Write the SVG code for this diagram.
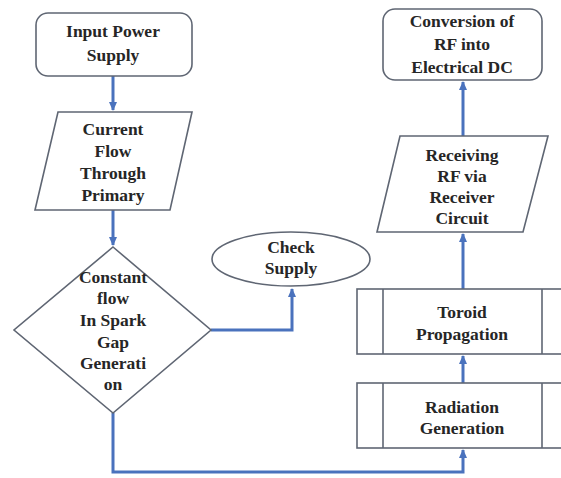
<svg xmlns="http://www.w3.org/2000/svg" width="561" height="478" viewBox="0 0 561 478" font-family="Liberation Serif, Times New Roman, serif">
<style>
.s{fill:#fff;stroke:#5f6673;stroke-width:1.6}
.t{font-weight:bold;font-size:17.5px;fill:#262626;text-anchor:middle}
.c{fill:none;stroke:#4a72bd;stroke-width:3;marker-end:url(#ah)}
</style>
<defs>
<marker id="ah" markerUnits="userSpaceOnUse" markerWidth="10" markerHeight="10" refX="8" refY="5" orient="auto">
<path d="M0,1 L9,5 L0,9 Z" fill="#4a72bd"/>
</marker>
</defs>
<rect width="561" height="478" fill="#fff"/>
<g id="connectors">
<path class="c" d="M113,76 V110"/>
<path class="c" d="M113,210 V245"/>
<path class="c" d="M211,330 H292 V289"/>
<path class="c" d="M113,413 V472 H463 V450"/>
<path class="c" d="M463,383 V356"/>
<path class="c" d="M463,289 V234"/>
<path class="c" d="M463,136 V82"/>
</g>
<g id="input">
<rect class="s" x="36" y="13" width="156" height="63" rx="12"/>
<text class="t" x="113" y="37">Input Power</text>
<text class="t" x="113" y="61">Supply</text>
</g>
<g id="current">
<polygon class="s" points="58,112 192,112 170,210 35,210"/>
<text class="t" x="113" y="135">Current</text>
<text class="t" x="113" y="157">Flow</text>
<text class="t" x="113" y="179">Through</text>
<text class="t" x="113" y="201">Primary</text>
</g>
<g id="decision">
<polygon class="s" points="113,247 211,330 113,413 14,330"/>
<text class="t" x="113" y="283">Constant</text>
<text class="t" x="113" y="304">flow</text>
<text class="t" x="113" y="326">In Spark</text>
<text class="t" x="113" y="348">Gap</text>
<text class="t" x="113" y="369">Generati</text>
<text class="t" x="113" y="390">on</text>
</g>
<g id="check">
<ellipse class="s" cx="291" cy="259" rx="79" ry="27"/>
<text class="t" x="291" y="253">Check</text>
<text class="t" x="291" y="274">Supply</text>
</g>
<g id="radiation">
<rect class="s" x="357" y="383" width="211" height="65"/>
<line class="s" x1="383" y1="383" x2="383" y2="448"/>
<line class="s" x1="542" y1="383" x2="542" y2="448"/>
<text class="t" x="462" y="413">Radiation</text>
<text class="t" x="462" y="434">Generation</text>
</g>
<g id="toroid">
<rect class="s" x="357" y="289" width="211" height="65"/>
<line class="s" x1="383" y1="289" x2="383" y2="354"/>
<line class="s" x1="542" y1="289" x2="542" y2="354"/>
<text class="t" x="462" y="318">Toroid</text>
<text class="t" x="462" y="340">Propagation</text>
</g>
<g id="receiving">
<polygon class="s" points="400,136 548,136 523,232 377,232"/>
<text class="t" x="462" y="161">Receiving</text>
<text class="t" x="462" y="182">RF via</text>
<text class="t" x="462" y="203">Receiver</text>
<text class="t" x="462" y="224">Circuit</text>
</g>
<g id="conversion">
<rect class="s" x="383" y="9" width="159" height="71" rx="12"/>
<text class="t" x="462" y="27">Conversion of</text>
<text class="t" x="462" y="50">RF into</text>
<text class="t" x="462" y="73">Electrical DC</text>
</g>
</svg>
